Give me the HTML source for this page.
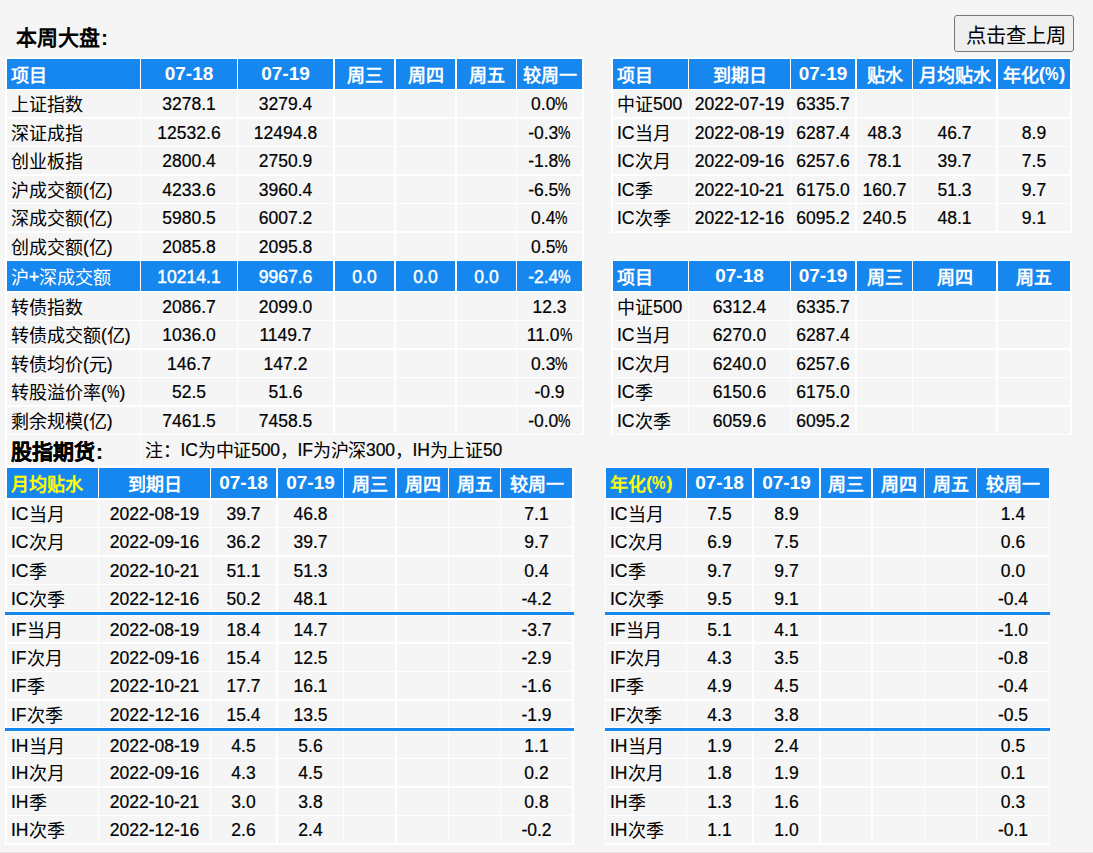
<!DOCTYPE html>
<html lang="zh-CN"><head><meta charset="utf-8"><style>
html,body{margin:0;padding:0;}
body{width:1093px;height:853px;background:#f5f5f5;position:relative;overflow:hidden;font-family:"Liberation Sans",sans-serif;color:#000;}
.r{position:absolute;}
.t{position:absolute;white-space:nowrap;box-sizing:border-box;font-size:17.5px;-webkit-text-stroke:0.2px currentColor;}
.t i{font-style:normal;font-size:18px;position:relative;top:1px;-webkit-text-stroke:0;}
.h{color:#fff;font-weight:bold;font-size:19px;-webkit-text-stroke:0;}
.h i{font-size:18px;top:1.5px;}
.y{color:#ffff00;}
.p{font-weight:inherit;display:inline-block;transform:scaleX(0.8);transform-origin:0 0;margin-right:-3px;}
.w{color:#fff;-webkit-text-stroke:0.45px #fff;}
.g{font-weight:bold;font-size:21px;}
.g i{font-size:21px;}
.ttl{position:absolute;left:16px;top:23px;font-weight:bold;font-size:21px;line-height:30px;white-space:nowrap;}
.btn{position:absolute;left:954px;top:15px;width:120px;height:37px;box-sizing:border-box;border:1px solid #767676;border-radius:3px;background:#efefef;font-size:20.3px;line-height:35px;padding-top:3px;padding-left:4px;text-align:center;white-space:nowrap;}
.bot{position:absolute;left:0;top:852px;width:1093px;height:1px;background:#e6e2e2;}
</style></head><body>
<div class="ttl">本周大盘<span style="margin-left:1px">:</span></div>
<div class="btn">点击查上周</div>
<div class="r" style="left:5px;top:57px;width:579px;height:378px;background:#fff"></div>
<div class="r" style="left:7px;top:59px;width:133px;height:30px;background:#1787f0"></div>
<div class="t h" style="left:7px;top:59px;width:133px;height:30px;line-height:30px;text-align:left;padding-left:4px;"><i>项目</i></div>
<div class="r" style="left:141px;top:59px;width:96px;height:30px;background:#1787f0"></div>
<div class="t h" style="left:141px;top:59px;width:96px;height:30px;line-height:30px;text-align:center;">07-18</div>
<div class="r" style="left:238px;top:59px;width:95px;height:30px;background:#1787f0"></div>
<div class="t h" style="left:238px;top:59px;width:95px;height:30px;line-height:30px;text-align:center;">07-19</div>
<div class="r" style="left:335px;top:59px;width:59px;height:30px;background:#1787f0"></div>
<div class="t h" style="left:335px;top:59px;width:59px;height:30px;line-height:30px;text-align:center;"><i>周三</i></div>
<div class="r" style="left:396px;top:59px;width:59px;height:30px;background:#1787f0"></div>
<div class="t h" style="left:396px;top:59px;width:59px;height:30px;line-height:30px;text-align:center;"><i>周四</i></div>
<div class="r" style="left:457px;top:59px;width:59px;height:30px;background:#1787f0"></div>
<div class="t h" style="left:457px;top:59px;width:59px;height:30px;line-height:30px;text-align:center;"><i>周五</i></div>
<div class="r" style="left:517px;top:59px;width:65px;height:30px;background:#1787f0"></div>
<div class="t h" style="left:517px;top:59px;width:65px;height:30px;line-height:30px;text-align:center;"><i>较周一</i></div>
<div class="r" style="left:7px;top:90px;width:133px;height:27px;background:#f5f5f5"></div>
<div class="t d" style="left:7px;top:91px;width:133px;height:27px;line-height:27px;text-align:left;padding-left:4px;"><i>上证指数</i></div>
<div class="r" style="left:141px;top:90px;width:96px;height:27px;background:#f5f5f5"></div>
<div class="t d" style="left:141px;top:91px;width:96px;height:27px;line-height:27px;text-align:center;">3278.1</div>
<div class="r" style="left:238px;top:90px;width:95px;height:27px;background:#f5f5f5"></div>
<div class="t d" style="left:238px;top:91px;width:95px;height:27px;line-height:27px;text-align:center;">3279.4</div>
<div class="r" style="left:335px;top:90px;width:59px;height:27px;background:#f5f5f5"></div>
<div class="r" style="left:396px;top:90px;width:59px;height:27px;background:#f5f5f5"></div>
<div class="r" style="left:457px;top:90px;width:59px;height:27px;background:#f5f5f5"></div>
<div class="r" style="left:517px;top:90px;width:65px;height:27px;background:#f5f5f5"></div>
<div class="t d" style="left:517px;top:91px;width:65px;height:27px;line-height:27px;text-align:center;">0.0<b class="p">%</b></div>
<div class="r" style="left:7px;top:119px;width:133px;height:27px;background:#f5f5f5"></div>
<div class="t d" style="left:7px;top:120px;width:133px;height:27px;line-height:27px;text-align:left;padding-left:4px;"><i>深证成指</i></div>
<div class="r" style="left:141px;top:119px;width:96px;height:27px;background:#f5f5f5"></div>
<div class="t d" style="left:141px;top:120px;width:96px;height:27px;line-height:27px;text-align:center;">12532.6</div>
<div class="r" style="left:238px;top:119px;width:95px;height:27px;background:#f5f5f5"></div>
<div class="t d" style="left:238px;top:120px;width:95px;height:27px;line-height:27px;text-align:center;">12494.8</div>
<div class="r" style="left:335px;top:119px;width:59px;height:27px;background:#f5f5f5"></div>
<div class="r" style="left:396px;top:119px;width:59px;height:27px;background:#f5f5f5"></div>
<div class="r" style="left:457px;top:119px;width:59px;height:27px;background:#f5f5f5"></div>
<div class="r" style="left:517px;top:119px;width:65px;height:27px;background:#f5f5f5"></div>
<div class="t d" style="left:517px;top:120px;width:65px;height:27px;line-height:27px;text-align:center;">-0.3<b class="p">%</b></div>
<div class="r" style="left:7px;top:147px;width:133px;height:27px;background:#f5f5f5"></div>
<div class="t d" style="left:7px;top:148px;width:133px;height:27px;line-height:27px;text-align:left;padding-left:4px;"><i>创业板指</i></div>
<div class="r" style="left:141px;top:147px;width:96px;height:27px;background:#f5f5f5"></div>
<div class="t d" style="left:141px;top:148px;width:96px;height:27px;line-height:27px;text-align:center;">2800.4</div>
<div class="r" style="left:238px;top:147px;width:95px;height:27px;background:#f5f5f5"></div>
<div class="t d" style="left:238px;top:148px;width:95px;height:27px;line-height:27px;text-align:center;">2750.9</div>
<div class="r" style="left:335px;top:147px;width:59px;height:27px;background:#f5f5f5"></div>
<div class="r" style="left:396px;top:147px;width:59px;height:27px;background:#f5f5f5"></div>
<div class="r" style="left:457px;top:147px;width:59px;height:27px;background:#f5f5f5"></div>
<div class="r" style="left:517px;top:147px;width:65px;height:27px;background:#f5f5f5"></div>
<div class="t d" style="left:517px;top:148px;width:65px;height:27px;line-height:27px;text-align:center;">-1.8<b class="p">%</b></div>
<div class="r" style="left:7px;top:176px;width:133px;height:27px;background:#f5f5f5"></div>
<div class="t d" style="left:7px;top:177px;width:133px;height:27px;line-height:27px;text-align:left;padding-left:4px;"><i>沪成交额</i>(<i>亿</i>)</div>
<div class="r" style="left:141px;top:176px;width:96px;height:27px;background:#f5f5f5"></div>
<div class="t d" style="left:141px;top:177px;width:96px;height:27px;line-height:27px;text-align:center;">4233.6</div>
<div class="r" style="left:238px;top:176px;width:95px;height:27px;background:#f5f5f5"></div>
<div class="t d" style="left:238px;top:177px;width:95px;height:27px;line-height:27px;text-align:center;">3960.4</div>
<div class="r" style="left:335px;top:176px;width:59px;height:27px;background:#f5f5f5"></div>
<div class="r" style="left:396px;top:176px;width:59px;height:27px;background:#f5f5f5"></div>
<div class="r" style="left:457px;top:176px;width:59px;height:27px;background:#f5f5f5"></div>
<div class="r" style="left:517px;top:176px;width:65px;height:27px;background:#f5f5f5"></div>
<div class="t d" style="left:517px;top:177px;width:65px;height:27px;line-height:27px;text-align:center;">-6.5<b class="p">%</b></div>
<div class="r" style="left:7px;top:204px;width:133px;height:27px;background:#f5f5f5"></div>
<div class="t d" style="left:7px;top:205px;width:133px;height:27px;line-height:27px;text-align:left;padding-left:4px;"><i>深成交额</i>(<i>亿</i>)</div>
<div class="r" style="left:141px;top:204px;width:96px;height:27px;background:#f5f5f5"></div>
<div class="t d" style="left:141px;top:205px;width:96px;height:27px;line-height:27px;text-align:center;">5980.5</div>
<div class="r" style="left:238px;top:204px;width:95px;height:27px;background:#f5f5f5"></div>
<div class="t d" style="left:238px;top:205px;width:95px;height:27px;line-height:27px;text-align:center;">6007.2</div>
<div class="r" style="left:335px;top:204px;width:59px;height:27px;background:#f5f5f5"></div>
<div class="r" style="left:396px;top:204px;width:59px;height:27px;background:#f5f5f5"></div>
<div class="r" style="left:457px;top:204px;width:59px;height:27px;background:#f5f5f5"></div>
<div class="r" style="left:517px;top:204px;width:65px;height:27px;background:#f5f5f5"></div>
<div class="t d" style="left:517px;top:205px;width:65px;height:27px;line-height:27px;text-align:center;">0.4<b class="p">%</b></div>
<div class="r" style="left:7px;top:233px;width:133px;height:27px;background:#f5f5f5"></div>
<div class="t d" style="left:7px;top:234px;width:133px;height:27px;line-height:27px;text-align:left;padding-left:4px;"><i>创成交额</i>(<i>亿</i>)</div>
<div class="r" style="left:141px;top:233px;width:96px;height:27px;background:#f5f5f5"></div>
<div class="t d" style="left:141px;top:234px;width:96px;height:27px;line-height:27px;text-align:center;">2085.8</div>
<div class="r" style="left:238px;top:233px;width:95px;height:27px;background:#f5f5f5"></div>
<div class="t d" style="left:238px;top:234px;width:95px;height:27px;line-height:27px;text-align:center;">2095.8</div>
<div class="r" style="left:335px;top:233px;width:59px;height:27px;background:#f5f5f5"></div>
<div class="r" style="left:396px;top:233px;width:59px;height:27px;background:#f5f5f5"></div>
<div class="r" style="left:457px;top:233px;width:59px;height:27px;background:#f5f5f5"></div>
<div class="r" style="left:517px;top:233px;width:65px;height:27px;background:#f5f5f5"></div>
<div class="t d" style="left:517px;top:234px;width:65px;height:27px;line-height:27px;text-align:center;">0.5<b class="p">%</b></div>
<div class="r" style="left:7px;top:261px;width:133px;height:30px;background:#1787f0"></div>
<div class="t w" style="left:7px;top:262px;width:133px;height:30px;line-height:30px;text-align:left;padding-left:4px;"><i>沪</i>+<i>深成交额</i></div>
<div class="r" style="left:141px;top:261px;width:96px;height:30px;background:#1787f0"></div>
<div class="t w" style="left:141px;top:262px;width:96px;height:30px;line-height:30px;text-align:center;">10214.1</div>
<div class="r" style="left:238px;top:261px;width:95px;height:30px;background:#1787f0"></div>
<div class="t w" style="left:238px;top:262px;width:95px;height:30px;line-height:30px;text-align:center;">9967.6</div>
<div class="r" style="left:335px;top:261px;width:59px;height:30px;background:#1787f0"></div>
<div class="t w" style="left:335px;top:262px;width:59px;height:30px;line-height:30px;text-align:center;">0.0</div>
<div class="r" style="left:396px;top:261px;width:59px;height:30px;background:#1787f0"></div>
<div class="t w" style="left:396px;top:262px;width:59px;height:30px;line-height:30px;text-align:center;">0.0</div>
<div class="r" style="left:457px;top:261px;width:59px;height:30px;background:#1787f0"></div>
<div class="t w" style="left:457px;top:262px;width:59px;height:30px;line-height:30px;text-align:center;">0.0</div>
<div class="r" style="left:517px;top:261px;width:65px;height:30px;background:#1787f0"></div>
<div class="t w" style="left:517px;top:262px;width:65px;height:30px;line-height:30px;text-align:center;">-2.4<b class="p">%</b></div>
<div class="r" style="left:7px;top:293px;width:133px;height:27px;background:#f5f5f5"></div>
<div class="t d" style="left:7px;top:294px;width:133px;height:27px;line-height:27px;text-align:left;padding-left:4px;"><i>转债指数</i></div>
<div class="r" style="left:141px;top:293px;width:96px;height:27px;background:#f5f5f5"></div>
<div class="t d" style="left:141px;top:294px;width:96px;height:27px;line-height:27px;text-align:center;">2086.7</div>
<div class="r" style="left:238px;top:293px;width:95px;height:27px;background:#f5f5f5"></div>
<div class="t d" style="left:238px;top:294px;width:95px;height:27px;line-height:27px;text-align:center;">2099.0</div>
<div class="r" style="left:335px;top:293px;width:59px;height:27px;background:#f5f5f5"></div>
<div class="r" style="left:396px;top:293px;width:59px;height:27px;background:#f5f5f5"></div>
<div class="r" style="left:457px;top:293px;width:59px;height:27px;background:#f5f5f5"></div>
<div class="r" style="left:517px;top:293px;width:65px;height:27px;background:#f5f5f5"></div>
<div class="t d" style="left:517px;top:294px;width:65px;height:27px;line-height:27px;text-align:center;">12.3</div>
<div class="r" style="left:7px;top:321px;width:133px;height:27px;background:#f5f5f5"></div>
<div class="t d" style="left:7px;top:322px;width:133px;height:27px;line-height:27px;text-align:left;padding-left:4px;"><i>转债成交额</i>(<i>亿</i>)</div>
<div class="r" style="left:141px;top:321px;width:96px;height:27px;background:#f5f5f5"></div>
<div class="t d" style="left:141px;top:322px;width:96px;height:27px;line-height:27px;text-align:center;">1036.0</div>
<div class="r" style="left:238px;top:321px;width:95px;height:27px;background:#f5f5f5"></div>
<div class="t d" style="left:238px;top:322px;width:95px;height:27px;line-height:27px;text-align:center;">1149.7</div>
<div class="r" style="left:335px;top:321px;width:59px;height:27px;background:#f5f5f5"></div>
<div class="r" style="left:396px;top:321px;width:59px;height:27px;background:#f5f5f5"></div>
<div class="r" style="left:457px;top:321px;width:59px;height:27px;background:#f5f5f5"></div>
<div class="r" style="left:517px;top:321px;width:65px;height:27px;background:#f5f5f5"></div>
<div class="t d" style="left:517px;top:322px;width:65px;height:27px;line-height:27px;text-align:center;">11.0<b class="p">%</b></div>
<div class="r" style="left:7px;top:350px;width:133px;height:27px;background:#f5f5f5"></div>
<div class="t d" style="left:7px;top:351px;width:133px;height:27px;line-height:27px;text-align:left;padding-left:4px;"><i>转债均价</i>(<i>元</i>)</div>
<div class="r" style="left:141px;top:350px;width:96px;height:27px;background:#f5f5f5"></div>
<div class="t d" style="left:141px;top:351px;width:96px;height:27px;line-height:27px;text-align:center;">146.7</div>
<div class="r" style="left:238px;top:350px;width:95px;height:27px;background:#f5f5f5"></div>
<div class="t d" style="left:238px;top:351px;width:95px;height:27px;line-height:27px;text-align:center;">147.2</div>
<div class="r" style="left:335px;top:350px;width:59px;height:27px;background:#f5f5f5"></div>
<div class="r" style="left:396px;top:350px;width:59px;height:27px;background:#f5f5f5"></div>
<div class="r" style="left:457px;top:350px;width:59px;height:27px;background:#f5f5f5"></div>
<div class="r" style="left:517px;top:350px;width:65px;height:27px;background:#f5f5f5"></div>
<div class="t d" style="left:517px;top:351px;width:65px;height:27px;line-height:27px;text-align:center;">0.3<b class="p">%</b></div>
<div class="r" style="left:7px;top:378px;width:133px;height:27px;background:#f5f5f5"></div>
<div class="t d" style="left:7px;top:379px;width:133px;height:27px;line-height:27px;text-align:left;padding-left:4px;"><i>转股溢价率</i>(<b class="p">%</b>)</div>
<div class="r" style="left:141px;top:378px;width:96px;height:27px;background:#f5f5f5"></div>
<div class="t d" style="left:141px;top:379px;width:96px;height:27px;line-height:27px;text-align:center;">52.5</div>
<div class="r" style="left:238px;top:378px;width:95px;height:27px;background:#f5f5f5"></div>
<div class="t d" style="left:238px;top:379px;width:95px;height:27px;line-height:27px;text-align:center;">51.6</div>
<div class="r" style="left:335px;top:378px;width:59px;height:27px;background:#f5f5f5"></div>
<div class="r" style="left:396px;top:378px;width:59px;height:27px;background:#f5f5f5"></div>
<div class="r" style="left:457px;top:378px;width:59px;height:27px;background:#f5f5f5"></div>
<div class="r" style="left:517px;top:378px;width:65px;height:27px;background:#f5f5f5"></div>
<div class="t d" style="left:517px;top:379px;width:65px;height:27px;line-height:27px;text-align:center;">-0.9</div>
<div class="r" style="left:7px;top:407px;width:133px;height:27px;background:#f5f5f5"></div>
<div class="t d" style="left:7px;top:408px;width:133px;height:27px;line-height:27px;text-align:left;padding-left:4px;"><i>剩余规模</i>(<i>亿</i>)</div>
<div class="r" style="left:141px;top:407px;width:96px;height:27px;background:#f5f5f5"></div>
<div class="t d" style="left:141px;top:408px;width:96px;height:27px;line-height:27px;text-align:center;">7461.5</div>
<div class="r" style="left:238px;top:407px;width:95px;height:27px;background:#f5f5f5"></div>
<div class="t d" style="left:238px;top:408px;width:95px;height:27px;line-height:27px;text-align:center;">7458.5</div>
<div class="r" style="left:335px;top:407px;width:59px;height:27px;background:#f5f5f5"></div>
<div class="r" style="left:396px;top:407px;width:59px;height:27px;background:#f5f5f5"></div>
<div class="r" style="left:457px;top:407px;width:59px;height:27px;background:#f5f5f5"></div>
<div class="r" style="left:517px;top:407px;width:65px;height:27px;background:#f5f5f5"></div>
<div class="t d" style="left:517px;top:408px;width:65px;height:27px;line-height:27px;text-align:center;">-0.0<b class="p">%</b></div>
<div class="r" style="left:5px;top:435px;width:2px;height:33px;background:#fff"></div>
<div class="r" style="left:7px;top:435px;width:133px;height:30px;background:#f5f5f5"></div>
<div class="r" style="left:140px;top:435px;width:1px;height:30px;background:#fff"></div>
<div class="r" style="left:141px;top:435px;width:443px;height:32px;background:#f5f5f5"></div>
<div class="r" style="left:5px;top:465px;width:136px;height:3px;background:#fff"></div>
<div class="r" style="left:141px;top:467px;width:433px;height:1px;background:#fff"></div>
<div class="t g" style="left:11px;top:437px;height:30px;line-height:30px">股指期货<span style="margin-left:1px">:</span></div>
<div class="t d" style="left:145px;top:435px;height:31px;line-height:31px;letter-spacing:-0.2px"><i>注：</i>IC<i>为中证</i>500<i>，</i>IF<i>为沪深</i>300<i>，</i>IH<i>为上证</i>50</div>
<div class="r" style="left:611px;top:57px;width:461px;height:176px;background:#fff"></div>
<div class="r" style="left:613px;top:59px;width:75px;height:30px;background:#1787f0"></div>
<div class="t h" style="left:613px;top:59px;width:75px;height:30px;line-height:30px;text-align:left;padding-left:4px;"><i>项目</i></div>
<div class="r" style="left:689px;top:59px;width:101px;height:30px;background:#1787f0"></div>
<div class="t h" style="left:689px;top:59px;width:101px;height:30px;line-height:30px;text-align:center;"><i>到期日</i></div>
<div class="r" style="left:791px;top:59px;width:64px;height:30px;background:#1787f0"></div>
<div class="t h" style="left:791px;top:59px;width:64px;height:30px;line-height:30px;text-align:center;">07-19</div>
<div class="r" style="left:857px;top:59px;width:55px;height:30px;background:#1787f0"></div>
<div class="t h" style="left:857px;top:59px;width:55px;height:30px;line-height:30px;text-align:center;"><i>贴水</i></div>
<div class="r" style="left:913px;top:59px;width:83px;height:30px;background:#1787f0"></div>
<div class="t h" style="left:913px;top:59px;width:83px;height:30px;line-height:30px;text-align:center;"><i>月均贴水</i></div>
<div class="r" style="left:998px;top:59px;width:72px;height:30px;background:#1787f0"></div>
<div class="t h" style="left:998px;top:59px;width:72px;height:30px;line-height:30px;text-align:center;"><i>年化</i>(<b class="p">%</b>)</div>
<div class="r" style="left:613px;top:90px;width:75px;height:27px;background:#f5f5f5"></div>
<div class="t d" style="left:613px;top:91px;width:75px;height:27px;line-height:27px;text-align:left;padding-left:4px;"><i>中证</i>500</div>
<div class="r" style="left:689px;top:90px;width:101px;height:27px;background:#f5f5f5"></div>
<div class="t d" style="left:689px;top:91px;width:101px;height:27px;line-height:27px;text-align:center;">2022-07-19</div>
<div class="r" style="left:791px;top:90px;width:64px;height:27px;background:#f5f5f5"></div>
<div class="t d" style="left:791px;top:91px;width:64px;height:27px;line-height:27px;text-align:center;">6335.7</div>
<div class="r" style="left:857px;top:90px;width:55px;height:27px;background:#f5f5f5"></div>
<div class="r" style="left:913px;top:90px;width:83px;height:27px;background:#f5f5f5"></div>
<div class="r" style="left:998px;top:90px;width:72px;height:27px;background:#f5f5f5"></div>
<div class="r" style="left:613px;top:119px;width:75px;height:27px;background:#f5f5f5"></div>
<div class="t d" style="left:613px;top:120px;width:75px;height:27px;line-height:27px;text-align:left;padding-left:4px;">IC<i>当月</i></div>
<div class="r" style="left:689px;top:119px;width:101px;height:27px;background:#f5f5f5"></div>
<div class="t d" style="left:689px;top:120px;width:101px;height:27px;line-height:27px;text-align:center;">2022-08-19</div>
<div class="r" style="left:791px;top:119px;width:64px;height:27px;background:#f5f5f5"></div>
<div class="t d" style="left:791px;top:120px;width:64px;height:27px;line-height:27px;text-align:center;">6287.4</div>
<div class="r" style="left:857px;top:119px;width:55px;height:27px;background:#f5f5f5"></div>
<div class="t d" style="left:857px;top:120px;width:55px;height:27px;line-height:27px;text-align:center;">48.3</div>
<div class="r" style="left:913px;top:119px;width:83px;height:27px;background:#f5f5f5"></div>
<div class="t d" style="left:913px;top:120px;width:83px;height:27px;line-height:27px;text-align:center;">46.7</div>
<div class="r" style="left:998px;top:119px;width:72px;height:27px;background:#f5f5f5"></div>
<div class="t d" style="left:998px;top:120px;width:72px;height:27px;line-height:27px;text-align:center;">8.9</div>
<div class="r" style="left:613px;top:147px;width:75px;height:27px;background:#f5f5f5"></div>
<div class="t d" style="left:613px;top:148px;width:75px;height:27px;line-height:27px;text-align:left;padding-left:4px;">IC<i>次月</i></div>
<div class="r" style="left:689px;top:147px;width:101px;height:27px;background:#f5f5f5"></div>
<div class="t d" style="left:689px;top:148px;width:101px;height:27px;line-height:27px;text-align:center;">2022-09-16</div>
<div class="r" style="left:791px;top:147px;width:64px;height:27px;background:#f5f5f5"></div>
<div class="t d" style="left:791px;top:148px;width:64px;height:27px;line-height:27px;text-align:center;">6257.6</div>
<div class="r" style="left:857px;top:147px;width:55px;height:27px;background:#f5f5f5"></div>
<div class="t d" style="left:857px;top:148px;width:55px;height:27px;line-height:27px;text-align:center;">78.1</div>
<div class="r" style="left:913px;top:147px;width:83px;height:27px;background:#f5f5f5"></div>
<div class="t d" style="left:913px;top:148px;width:83px;height:27px;line-height:27px;text-align:center;">39.7</div>
<div class="r" style="left:998px;top:147px;width:72px;height:27px;background:#f5f5f5"></div>
<div class="t d" style="left:998px;top:148px;width:72px;height:27px;line-height:27px;text-align:center;">7.5</div>
<div class="r" style="left:613px;top:176px;width:75px;height:27px;background:#f5f5f5"></div>
<div class="t d" style="left:613px;top:177px;width:75px;height:27px;line-height:27px;text-align:left;padding-left:4px;">IC<i>季</i></div>
<div class="r" style="left:689px;top:176px;width:101px;height:27px;background:#f5f5f5"></div>
<div class="t d" style="left:689px;top:177px;width:101px;height:27px;line-height:27px;text-align:center;">2022-10-21</div>
<div class="r" style="left:791px;top:176px;width:64px;height:27px;background:#f5f5f5"></div>
<div class="t d" style="left:791px;top:177px;width:64px;height:27px;line-height:27px;text-align:center;">6175.0</div>
<div class="r" style="left:857px;top:176px;width:55px;height:27px;background:#f5f5f5"></div>
<div class="t d" style="left:857px;top:177px;width:55px;height:27px;line-height:27px;text-align:center;">160.7</div>
<div class="r" style="left:913px;top:176px;width:83px;height:27px;background:#f5f5f5"></div>
<div class="t d" style="left:913px;top:177px;width:83px;height:27px;line-height:27px;text-align:center;">51.3</div>
<div class="r" style="left:998px;top:176px;width:72px;height:27px;background:#f5f5f5"></div>
<div class="t d" style="left:998px;top:177px;width:72px;height:27px;line-height:27px;text-align:center;">9.7</div>
<div class="r" style="left:613px;top:204px;width:75px;height:27px;background:#f5f5f5"></div>
<div class="t d" style="left:613px;top:205px;width:75px;height:27px;line-height:27px;text-align:left;padding-left:4px;">IC<i>次季</i></div>
<div class="r" style="left:689px;top:204px;width:101px;height:27px;background:#f5f5f5"></div>
<div class="t d" style="left:689px;top:205px;width:101px;height:27px;line-height:27px;text-align:center;">2022-12-16</div>
<div class="r" style="left:791px;top:204px;width:64px;height:27px;background:#f5f5f5"></div>
<div class="t d" style="left:791px;top:205px;width:64px;height:27px;line-height:27px;text-align:center;">6095.2</div>
<div class="r" style="left:857px;top:204px;width:55px;height:27px;background:#f5f5f5"></div>
<div class="t d" style="left:857px;top:205px;width:55px;height:27px;line-height:27px;text-align:center;">240.5</div>
<div class="r" style="left:913px;top:204px;width:83px;height:27px;background:#f5f5f5"></div>
<div class="t d" style="left:913px;top:205px;width:83px;height:27px;line-height:27px;text-align:center;">48.1</div>
<div class="r" style="left:998px;top:204px;width:72px;height:27px;background:#f5f5f5"></div>
<div class="t d" style="left:998px;top:205px;width:72px;height:27px;line-height:27px;text-align:center;">9.1</div>
<div class="r" style="left:611px;top:260px;width:461px;height:175px;background:#fff"></div>
<div class="r" style="left:613px;top:261px;width:75px;height:30px;background:#1787f0"></div>
<div class="t h" style="left:613px;top:261px;width:75px;height:30px;line-height:30px;text-align:left;padding-left:4px;"><i>项目</i></div>
<div class="r" style="left:689px;top:261px;width:101px;height:30px;background:#1787f0"></div>
<div class="t h" style="left:689px;top:261px;width:101px;height:30px;line-height:30px;text-align:center;">07-18</div>
<div class="r" style="left:791px;top:261px;width:64px;height:30px;background:#1787f0"></div>
<div class="t h" style="left:791px;top:261px;width:64px;height:30px;line-height:30px;text-align:center;">07-19</div>
<div class="r" style="left:857px;top:261px;width:55px;height:30px;background:#1787f0"></div>
<div class="t h" style="left:857px;top:261px;width:55px;height:30px;line-height:30px;text-align:center;"><i>周三</i></div>
<div class="r" style="left:913px;top:261px;width:83px;height:30px;background:#1787f0"></div>
<div class="t h" style="left:913px;top:261px;width:83px;height:30px;line-height:30px;text-align:center;"><i>周四</i></div>
<div class="r" style="left:998px;top:261px;width:72px;height:30px;background:#1787f0"></div>
<div class="t h" style="left:998px;top:261px;width:72px;height:30px;line-height:30px;text-align:center;"><i>周五</i></div>
<div class="r" style="left:613px;top:293px;width:75px;height:27px;background:#f5f5f5"></div>
<div class="t d" style="left:613px;top:294px;width:75px;height:27px;line-height:27px;text-align:left;padding-left:4px;"><i>中证</i>500</div>
<div class="r" style="left:689px;top:293px;width:101px;height:27px;background:#f5f5f5"></div>
<div class="t d" style="left:689px;top:294px;width:101px;height:27px;line-height:27px;text-align:center;">6312.4</div>
<div class="r" style="left:791px;top:293px;width:64px;height:27px;background:#f5f5f5"></div>
<div class="t d" style="left:791px;top:294px;width:64px;height:27px;line-height:27px;text-align:center;">6335.7</div>
<div class="r" style="left:857px;top:293px;width:55px;height:27px;background:#f5f5f5"></div>
<div class="r" style="left:913px;top:293px;width:83px;height:27px;background:#f5f5f5"></div>
<div class="r" style="left:998px;top:293px;width:72px;height:27px;background:#f5f5f5"></div>
<div class="r" style="left:613px;top:321px;width:75px;height:27px;background:#f5f5f5"></div>
<div class="t d" style="left:613px;top:322px;width:75px;height:27px;line-height:27px;text-align:left;padding-left:4px;">IC<i>当月</i></div>
<div class="r" style="left:689px;top:321px;width:101px;height:27px;background:#f5f5f5"></div>
<div class="t d" style="left:689px;top:322px;width:101px;height:27px;line-height:27px;text-align:center;">6270.0</div>
<div class="r" style="left:791px;top:321px;width:64px;height:27px;background:#f5f5f5"></div>
<div class="t d" style="left:791px;top:322px;width:64px;height:27px;line-height:27px;text-align:center;">6287.4</div>
<div class="r" style="left:857px;top:321px;width:55px;height:27px;background:#f5f5f5"></div>
<div class="r" style="left:913px;top:321px;width:83px;height:27px;background:#f5f5f5"></div>
<div class="r" style="left:998px;top:321px;width:72px;height:27px;background:#f5f5f5"></div>
<div class="r" style="left:613px;top:350px;width:75px;height:27px;background:#f5f5f5"></div>
<div class="t d" style="left:613px;top:351px;width:75px;height:27px;line-height:27px;text-align:left;padding-left:4px;">IC<i>次月</i></div>
<div class="r" style="left:689px;top:350px;width:101px;height:27px;background:#f5f5f5"></div>
<div class="t d" style="left:689px;top:351px;width:101px;height:27px;line-height:27px;text-align:center;">6240.0</div>
<div class="r" style="left:791px;top:350px;width:64px;height:27px;background:#f5f5f5"></div>
<div class="t d" style="left:791px;top:351px;width:64px;height:27px;line-height:27px;text-align:center;">6257.6</div>
<div class="r" style="left:857px;top:350px;width:55px;height:27px;background:#f5f5f5"></div>
<div class="r" style="left:913px;top:350px;width:83px;height:27px;background:#f5f5f5"></div>
<div class="r" style="left:998px;top:350px;width:72px;height:27px;background:#f5f5f5"></div>
<div class="r" style="left:613px;top:378px;width:75px;height:27px;background:#f5f5f5"></div>
<div class="t d" style="left:613px;top:379px;width:75px;height:27px;line-height:27px;text-align:left;padding-left:4px;">IC<i>季</i></div>
<div class="r" style="left:689px;top:378px;width:101px;height:27px;background:#f5f5f5"></div>
<div class="t d" style="left:689px;top:379px;width:101px;height:27px;line-height:27px;text-align:center;">6150.6</div>
<div class="r" style="left:791px;top:378px;width:64px;height:27px;background:#f5f5f5"></div>
<div class="t d" style="left:791px;top:379px;width:64px;height:27px;line-height:27px;text-align:center;">6175.0</div>
<div class="r" style="left:857px;top:378px;width:55px;height:27px;background:#f5f5f5"></div>
<div class="r" style="left:913px;top:378px;width:83px;height:27px;background:#f5f5f5"></div>
<div class="r" style="left:998px;top:378px;width:72px;height:27px;background:#f5f5f5"></div>
<div class="r" style="left:613px;top:407px;width:75px;height:27px;background:#f5f5f5"></div>
<div class="t d" style="left:613px;top:408px;width:75px;height:27px;line-height:27px;text-align:left;padding-left:4px;">IC<i>次季</i></div>
<div class="r" style="left:689px;top:407px;width:101px;height:27px;background:#f5f5f5"></div>
<div class="t d" style="left:689px;top:408px;width:101px;height:27px;line-height:27px;text-align:center;">6059.6</div>
<div class="r" style="left:791px;top:407px;width:64px;height:27px;background:#f5f5f5"></div>
<div class="t d" style="left:791px;top:408px;width:64px;height:27px;line-height:27px;text-align:center;">6095.2</div>
<div class="r" style="left:857px;top:407px;width:55px;height:27px;background:#f5f5f5"></div>
<div class="r" style="left:913px;top:407px;width:83px;height:27px;background:#f5f5f5"></div>
<div class="r" style="left:998px;top:407px;width:72px;height:27px;background:#f5f5f5"></div>
<div class="r" style="left:5px;top:467px;width:569px;height:378px;background:#fff"></div>
<div class="r" style="left:7px;top:468px;width:91px;height:30px;background:#1787f0"></div>
<div class="t h y" style="left:7px;top:468px;width:91px;height:30px;line-height:30px;text-align:left;padding-left:4px;"><i>月均贴水</i></div>
<div class="r" style="left:99px;top:468px;width:111px;height:30px;background:#1787f0"></div>
<div class="t h" style="left:99px;top:468px;width:111px;height:30px;line-height:30px;text-align:center;"><i>到期日</i></div>
<div class="r" style="left:211px;top:468px;width:65px;height:30px;background:#1787f0"></div>
<div class="t h" style="left:211px;top:468px;width:65px;height:30px;line-height:30px;text-align:center;">07-18</div>
<div class="r" style="left:278px;top:468px;width:65px;height:30px;background:#1787f0"></div>
<div class="t h" style="left:278px;top:468px;width:65px;height:30px;line-height:30px;text-align:center;">07-19</div>
<div class="r" style="left:344px;top:468px;width:51px;height:30px;background:#1787f0"></div>
<div class="t h" style="left:344px;top:468px;width:51px;height:30px;line-height:30px;text-align:center;"><i>周三</i></div>
<div class="r" style="left:397px;top:468px;width:51px;height:30px;background:#1787f0"></div>
<div class="t h" style="left:397px;top:468px;width:51px;height:30px;line-height:30px;text-align:center;"><i>周四</i></div>
<div class="r" style="left:449px;top:468px;width:51px;height:30px;background:#1787f0"></div>
<div class="t h" style="left:449px;top:468px;width:51px;height:30px;line-height:30px;text-align:center;"><i>周五</i></div>
<div class="r" style="left:501px;top:468px;width:71px;height:30px;background:#1787f0"></div>
<div class="t h" style="left:501px;top:468px;width:71px;height:30px;line-height:30px;text-align:center;"><i>较周一</i></div>
<div class="r" style="left:7px;top:500px;width:91px;height:27px;background:#f5f5f5"></div>
<div class="t d" style="left:7px;top:501px;width:91px;height:27px;line-height:27px;text-align:left;padding-left:4px;">IC<i>当月</i></div>
<div class="r" style="left:99px;top:500px;width:111px;height:27px;background:#f5f5f5"></div>
<div class="t d" style="left:99px;top:501px;width:111px;height:27px;line-height:27px;text-align:center;">2022-08-19</div>
<div class="r" style="left:211px;top:500px;width:65px;height:27px;background:#f5f5f5"></div>
<div class="t d" style="left:211px;top:501px;width:65px;height:27px;line-height:27px;text-align:center;">39.7</div>
<div class="r" style="left:278px;top:500px;width:65px;height:27px;background:#f5f5f5"></div>
<div class="t d" style="left:278px;top:501px;width:65px;height:27px;line-height:27px;text-align:center;">46.8</div>
<div class="r" style="left:344px;top:500px;width:51px;height:27px;background:#f5f5f5"></div>
<div class="r" style="left:397px;top:500px;width:51px;height:27px;background:#f5f5f5"></div>
<div class="r" style="left:449px;top:500px;width:51px;height:27px;background:#f5f5f5"></div>
<div class="r" style="left:501px;top:500px;width:71px;height:27px;background:#f5f5f5"></div>
<div class="t d" style="left:501px;top:501px;width:71px;height:27px;line-height:27px;text-align:center;">7.1</div>
<div class="r" style="left:7px;top:528px;width:91px;height:27px;background:#f5f5f5"></div>
<div class="t d" style="left:7px;top:529px;width:91px;height:27px;line-height:27px;text-align:left;padding-left:4px;">IC<i>次月</i></div>
<div class="r" style="left:99px;top:528px;width:111px;height:27px;background:#f5f5f5"></div>
<div class="t d" style="left:99px;top:529px;width:111px;height:27px;line-height:27px;text-align:center;">2022-09-16</div>
<div class="r" style="left:211px;top:528px;width:65px;height:27px;background:#f5f5f5"></div>
<div class="t d" style="left:211px;top:529px;width:65px;height:27px;line-height:27px;text-align:center;">36.2</div>
<div class="r" style="left:278px;top:528px;width:65px;height:27px;background:#f5f5f5"></div>
<div class="t d" style="left:278px;top:529px;width:65px;height:27px;line-height:27px;text-align:center;">39.7</div>
<div class="r" style="left:344px;top:528px;width:51px;height:27px;background:#f5f5f5"></div>
<div class="r" style="left:397px;top:528px;width:51px;height:27px;background:#f5f5f5"></div>
<div class="r" style="left:449px;top:528px;width:51px;height:27px;background:#f5f5f5"></div>
<div class="r" style="left:501px;top:528px;width:71px;height:27px;background:#f5f5f5"></div>
<div class="t d" style="left:501px;top:529px;width:71px;height:27px;line-height:27px;text-align:center;">9.7</div>
<div class="r" style="left:7px;top:557px;width:91px;height:27px;background:#f5f5f5"></div>
<div class="t d" style="left:7px;top:558px;width:91px;height:27px;line-height:27px;text-align:left;padding-left:4px;">IC<i>季</i></div>
<div class="r" style="left:99px;top:557px;width:111px;height:27px;background:#f5f5f5"></div>
<div class="t d" style="left:99px;top:558px;width:111px;height:27px;line-height:27px;text-align:center;">2022-10-21</div>
<div class="r" style="left:211px;top:557px;width:65px;height:27px;background:#f5f5f5"></div>
<div class="t d" style="left:211px;top:558px;width:65px;height:27px;line-height:27px;text-align:center;">51.1</div>
<div class="r" style="left:278px;top:557px;width:65px;height:27px;background:#f5f5f5"></div>
<div class="t d" style="left:278px;top:558px;width:65px;height:27px;line-height:27px;text-align:center;">51.3</div>
<div class="r" style="left:344px;top:557px;width:51px;height:27px;background:#f5f5f5"></div>
<div class="r" style="left:397px;top:557px;width:51px;height:27px;background:#f5f5f5"></div>
<div class="r" style="left:449px;top:557px;width:51px;height:27px;background:#f5f5f5"></div>
<div class="r" style="left:501px;top:557px;width:71px;height:27px;background:#f5f5f5"></div>
<div class="t d" style="left:501px;top:558px;width:71px;height:27px;line-height:27px;text-align:center;">0.4</div>
<div class="r" style="left:7px;top:585px;width:91px;height:26px;background:#f5f5f5"></div>
<div class="t d" style="left:7px;top:586px;width:91px;height:26px;line-height:26px;text-align:left;padding-left:4px;">IC<i>次季</i></div>
<div class="r" style="left:99px;top:585px;width:111px;height:26px;background:#f5f5f5"></div>
<div class="t d" style="left:99px;top:586px;width:111px;height:26px;line-height:26px;text-align:center;">2022-12-16</div>
<div class="r" style="left:211px;top:585px;width:65px;height:26px;background:#f5f5f5"></div>
<div class="t d" style="left:211px;top:586px;width:65px;height:26px;line-height:26px;text-align:center;">50.2</div>
<div class="r" style="left:278px;top:585px;width:65px;height:26px;background:#f5f5f5"></div>
<div class="t d" style="left:278px;top:586px;width:65px;height:26px;line-height:26px;text-align:center;">48.1</div>
<div class="r" style="left:344px;top:585px;width:51px;height:26px;background:#f5f5f5"></div>
<div class="r" style="left:397px;top:585px;width:51px;height:26px;background:#f5f5f5"></div>
<div class="r" style="left:449px;top:585px;width:51px;height:26px;background:#f5f5f5"></div>
<div class="r" style="left:501px;top:585px;width:71px;height:26px;background:#f5f5f5"></div>
<div class="t d" style="left:501px;top:586px;width:71px;height:26px;line-height:26px;text-align:center;">-4.2</div>
<div class="r" style="left:7px;top:616px;width:91px;height:26px;background:#f5f5f5"></div>
<div class="t d" style="left:7px;top:617px;width:91px;height:26px;line-height:26px;text-align:left;padding-left:4px;">IF<i>当月</i></div>
<div class="r" style="left:99px;top:616px;width:111px;height:26px;background:#f5f5f5"></div>
<div class="t d" style="left:99px;top:617px;width:111px;height:26px;line-height:26px;text-align:center;">2022-08-19</div>
<div class="r" style="left:211px;top:616px;width:65px;height:26px;background:#f5f5f5"></div>
<div class="t d" style="left:211px;top:617px;width:65px;height:26px;line-height:26px;text-align:center;">18.4</div>
<div class="r" style="left:278px;top:616px;width:65px;height:26px;background:#f5f5f5"></div>
<div class="t d" style="left:278px;top:617px;width:65px;height:26px;line-height:26px;text-align:center;">14.7</div>
<div class="r" style="left:344px;top:616px;width:51px;height:26px;background:#f5f5f5"></div>
<div class="r" style="left:397px;top:616px;width:51px;height:26px;background:#f5f5f5"></div>
<div class="r" style="left:449px;top:616px;width:51px;height:26px;background:#f5f5f5"></div>
<div class="r" style="left:501px;top:616px;width:71px;height:26px;background:#f5f5f5"></div>
<div class="t d" style="left:501px;top:617px;width:71px;height:26px;line-height:26px;text-align:center;">-3.7</div>
<div class="r" style="left:7px;top:644px;width:91px;height:27px;background:#f5f5f5"></div>
<div class="t d" style="left:7px;top:645px;width:91px;height:27px;line-height:27px;text-align:left;padding-left:4px;">IF<i>次月</i></div>
<div class="r" style="left:99px;top:644px;width:111px;height:27px;background:#f5f5f5"></div>
<div class="t d" style="left:99px;top:645px;width:111px;height:27px;line-height:27px;text-align:center;">2022-09-16</div>
<div class="r" style="left:211px;top:644px;width:65px;height:27px;background:#f5f5f5"></div>
<div class="t d" style="left:211px;top:645px;width:65px;height:27px;line-height:27px;text-align:center;">15.4</div>
<div class="r" style="left:278px;top:644px;width:65px;height:27px;background:#f5f5f5"></div>
<div class="t d" style="left:278px;top:645px;width:65px;height:27px;line-height:27px;text-align:center;">12.5</div>
<div class="r" style="left:344px;top:644px;width:51px;height:27px;background:#f5f5f5"></div>
<div class="r" style="left:397px;top:644px;width:51px;height:27px;background:#f5f5f5"></div>
<div class="r" style="left:449px;top:644px;width:51px;height:27px;background:#f5f5f5"></div>
<div class="r" style="left:501px;top:644px;width:71px;height:27px;background:#f5f5f5"></div>
<div class="t d" style="left:501px;top:645px;width:71px;height:27px;line-height:27px;text-align:center;">-2.9</div>
<div class="r" style="left:7px;top:672px;width:91px;height:27px;background:#f5f5f5"></div>
<div class="t d" style="left:7px;top:673px;width:91px;height:27px;line-height:27px;text-align:left;padding-left:4px;">IF<i>季</i></div>
<div class="r" style="left:99px;top:672px;width:111px;height:27px;background:#f5f5f5"></div>
<div class="t d" style="left:99px;top:673px;width:111px;height:27px;line-height:27px;text-align:center;">2022-10-21</div>
<div class="r" style="left:211px;top:672px;width:65px;height:27px;background:#f5f5f5"></div>
<div class="t d" style="left:211px;top:673px;width:65px;height:27px;line-height:27px;text-align:center;">17.7</div>
<div class="r" style="left:278px;top:672px;width:65px;height:27px;background:#f5f5f5"></div>
<div class="t d" style="left:278px;top:673px;width:65px;height:27px;line-height:27px;text-align:center;">16.1</div>
<div class="r" style="left:344px;top:672px;width:51px;height:27px;background:#f5f5f5"></div>
<div class="r" style="left:397px;top:672px;width:51px;height:27px;background:#f5f5f5"></div>
<div class="r" style="left:449px;top:672px;width:51px;height:27px;background:#f5f5f5"></div>
<div class="r" style="left:501px;top:672px;width:71px;height:27px;background:#f5f5f5"></div>
<div class="t d" style="left:501px;top:673px;width:71px;height:27px;line-height:27px;text-align:center;">-1.6</div>
<div class="r" style="left:7px;top:701px;width:91px;height:26px;background:#f5f5f5"></div>
<div class="t d" style="left:7px;top:702px;width:91px;height:26px;line-height:26px;text-align:left;padding-left:4px;">IF<i>次季</i></div>
<div class="r" style="left:99px;top:701px;width:111px;height:26px;background:#f5f5f5"></div>
<div class="t d" style="left:99px;top:702px;width:111px;height:26px;line-height:26px;text-align:center;">2022-12-16</div>
<div class="r" style="left:211px;top:701px;width:65px;height:26px;background:#f5f5f5"></div>
<div class="t d" style="left:211px;top:702px;width:65px;height:26px;line-height:26px;text-align:center;">15.4</div>
<div class="r" style="left:278px;top:701px;width:65px;height:26px;background:#f5f5f5"></div>
<div class="t d" style="left:278px;top:702px;width:65px;height:26px;line-height:26px;text-align:center;">13.5</div>
<div class="r" style="left:344px;top:701px;width:51px;height:26px;background:#f5f5f5"></div>
<div class="r" style="left:397px;top:701px;width:51px;height:26px;background:#f5f5f5"></div>
<div class="r" style="left:449px;top:701px;width:51px;height:26px;background:#f5f5f5"></div>
<div class="r" style="left:501px;top:701px;width:71px;height:26px;background:#f5f5f5"></div>
<div class="t d" style="left:501px;top:702px;width:71px;height:26px;line-height:26px;text-align:center;">-1.9</div>
<div class="r" style="left:7px;top:732px;width:91px;height:26px;background:#f5f5f5"></div>
<div class="t d" style="left:7px;top:733px;width:91px;height:26px;line-height:26px;text-align:left;padding-left:4px;">IH<i>当月</i></div>
<div class="r" style="left:99px;top:732px;width:111px;height:26px;background:#f5f5f5"></div>
<div class="t d" style="left:99px;top:733px;width:111px;height:26px;line-height:26px;text-align:center;">2022-08-19</div>
<div class="r" style="left:211px;top:732px;width:65px;height:26px;background:#f5f5f5"></div>
<div class="t d" style="left:211px;top:733px;width:65px;height:26px;line-height:26px;text-align:center;">4.5</div>
<div class="r" style="left:278px;top:732px;width:65px;height:26px;background:#f5f5f5"></div>
<div class="t d" style="left:278px;top:733px;width:65px;height:26px;line-height:26px;text-align:center;">5.6</div>
<div class="r" style="left:344px;top:732px;width:51px;height:26px;background:#f5f5f5"></div>
<div class="r" style="left:397px;top:732px;width:51px;height:26px;background:#f5f5f5"></div>
<div class="r" style="left:449px;top:732px;width:51px;height:26px;background:#f5f5f5"></div>
<div class="r" style="left:501px;top:732px;width:71px;height:26px;background:#f5f5f5"></div>
<div class="t d" style="left:501px;top:733px;width:71px;height:26px;line-height:26px;text-align:center;">1.1</div>
<div class="r" style="left:7px;top:759px;width:91px;height:27px;background:#f5f5f5"></div>
<div class="t d" style="left:7px;top:760px;width:91px;height:27px;line-height:27px;text-align:left;padding-left:4px;">IH<i>次月</i></div>
<div class="r" style="left:99px;top:759px;width:111px;height:27px;background:#f5f5f5"></div>
<div class="t d" style="left:99px;top:760px;width:111px;height:27px;line-height:27px;text-align:center;">2022-09-16</div>
<div class="r" style="left:211px;top:759px;width:65px;height:27px;background:#f5f5f5"></div>
<div class="t d" style="left:211px;top:760px;width:65px;height:27px;line-height:27px;text-align:center;">4.3</div>
<div class="r" style="left:278px;top:759px;width:65px;height:27px;background:#f5f5f5"></div>
<div class="t d" style="left:278px;top:760px;width:65px;height:27px;line-height:27px;text-align:center;">4.5</div>
<div class="r" style="left:344px;top:759px;width:51px;height:27px;background:#f5f5f5"></div>
<div class="r" style="left:397px;top:759px;width:51px;height:27px;background:#f5f5f5"></div>
<div class="r" style="left:449px;top:759px;width:51px;height:27px;background:#f5f5f5"></div>
<div class="r" style="left:501px;top:759px;width:71px;height:27px;background:#f5f5f5"></div>
<div class="t d" style="left:501px;top:760px;width:71px;height:27px;line-height:27px;text-align:center;">0.2</div>
<div class="r" style="left:7px;top:788px;width:91px;height:27px;background:#f5f5f5"></div>
<div class="t d" style="left:7px;top:789px;width:91px;height:27px;line-height:27px;text-align:left;padding-left:4px;">IH<i>季</i></div>
<div class="r" style="left:99px;top:788px;width:111px;height:27px;background:#f5f5f5"></div>
<div class="t d" style="left:99px;top:789px;width:111px;height:27px;line-height:27px;text-align:center;">2022-10-21</div>
<div class="r" style="left:211px;top:788px;width:65px;height:27px;background:#f5f5f5"></div>
<div class="t d" style="left:211px;top:789px;width:65px;height:27px;line-height:27px;text-align:center;">3.0</div>
<div class="r" style="left:278px;top:788px;width:65px;height:27px;background:#f5f5f5"></div>
<div class="t d" style="left:278px;top:789px;width:65px;height:27px;line-height:27px;text-align:center;">3.8</div>
<div class="r" style="left:344px;top:788px;width:51px;height:27px;background:#f5f5f5"></div>
<div class="r" style="left:397px;top:788px;width:51px;height:27px;background:#f5f5f5"></div>
<div class="r" style="left:449px;top:788px;width:51px;height:27px;background:#f5f5f5"></div>
<div class="r" style="left:501px;top:788px;width:71px;height:27px;background:#f5f5f5"></div>
<div class="t d" style="left:501px;top:789px;width:71px;height:27px;line-height:27px;text-align:center;">0.8</div>
<div class="r" style="left:7px;top:816px;width:91px;height:27px;background:#f5f5f5"></div>
<div class="t d" style="left:7px;top:817px;width:91px;height:27px;line-height:27px;text-align:left;padding-left:4px;">IH<i>次季</i></div>
<div class="r" style="left:99px;top:816px;width:111px;height:27px;background:#f5f5f5"></div>
<div class="t d" style="left:99px;top:817px;width:111px;height:27px;line-height:27px;text-align:center;">2022-12-16</div>
<div class="r" style="left:211px;top:816px;width:65px;height:27px;background:#f5f5f5"></div>
<div class="t d" style="left:211px;top:817px;width:65px;height:27px;line-height:27px;text-align:center;">2.6</div>
<div class="r" style="left:278px;top:816px;width:65px;height:27px;background:#f5f5f5"></div>
<div class="t d" style="left:278px;top:817px;width:65px;height:27px;line-height:27px;text-align:center;">2.4</div>
<div class="r" style="left:344px;top:816px;width:51px;height:27px;background:#f5f5f5"></div>
<div class="r" style="left:397px;top:816px;width:51px;height:27px;background:#f5f5f5"></div>
<div class="r" style="left:449px;top:816px;width:51px;height:27px;background:#f5f5f5"></div>
<div class="r" style="left:501px;top:816px;width:71px;height:27px;background:#f5f5f5"></div>
<div class="t d" style="left:501px;top:817px;width:71px;height:27px;line-height:27px;text-align:center;">-0.2</div>
<div class="r" style="left:5px;top:612px;width:569px;height:3px;background:#1787f0"></div>
<div class="r" style="left:5px;top:728px;width:569px;height:3px;background:#1787f0"></div>
<div class="r" style="left:605px;top:467px;width:445px;height:378px;background:#fff"></div>
<div class="r" style="left:606px;top:468px;width:80px;height:30px;background:#1787f0"></div>
<div class="t h y" style="left:606px;top:468px;width:80px;height:30px;line-height:30px;text-align:left;padding-left:4px;"><i>年化</i>(<b class="p">%</b>)</div>
<div class="r" style="left:687px;top:468px;width:65px;height:30px;background:#1787f0"></div>
<div class="t h" style="left:687px;top:468px;width:65px;height:30px;line-height:30px;text-align:center;">07-18</div>
<div class="r" style="left:754px;top:468px;width:65px;height:30px;background:#1787f0"></div>
<div class="t h" style="left:754px;top:468px;width:65px;height:30px;line-height:30px;text-align:center;">07-19</div>
<div class="r" style="left:821px;top:468px;width:50px;height:30px;background:#1787f0"></div>
<div class="t h" style="left:821px;top:468px;width:50px;height:30px;line-height:30px;text-align:center;"><i>周三</i></div>
<div class="r" style="left:873px;top:468px;width:51px;height:30px;background:#1787f0"></div>
<div class="t h" style="left:873px;top:468px;width:51px;height:30px;line-height:30px;text-align:center;"><i>周四</i></div>
<div class="r" style="left:925px;top:468px;width:51px;height:30px;background:#1787f0"></div>
<div class="t h" style="left:925px;top:468px;width:51px;height:30px;line-height:30px;text-align:center;"><i>周五</i></div>
<div class="r" style="left:977px;top:468px;width:72px;height:30px;background:#1787f0"></div>
<div class="t h" style="left:977px;top:468px;width:72px;height:30px;line-height:30px;text-align:center;"><i>较周一</i></div>
<div class="r" style="left:606px;top:500px;width:80px;height:27px;background:#f5f5f5"></div>
<div class="t d" style="left:606px;top:501px;width:80px;height:27px;line-height:27px;text-align:left;padding-left:4px;">IC<i>当月</i></div>
<div class="r" style="left:687px;top:500px;width:65px;height:27px;background:#f5f5f5"></div>
<div class="t d" style="left:687px;top:501px;width:65px;height:27px;line-height:27px;text-align:center;">7.5</div>
<div class="r" style="left:754px;top:500px;width:65px;height:27px;background:#f5f5f5"></div>
<div class="t d" style="left:754px;top:501px;width:65px;height:27px;line-height:27px;text-align:center;">8.9</div>
<div class="r" style="left:821px;top:500px;width:50px;height:27px;background:#f5f5f5"></div>
<div class="r" style="left:873px;top:500px;width:51px;height:27px;background:#f5f5f5"></div>
<div class="r" style="left:925px;top:500px;width:51px;height:27px;background:#f5f5f5"></div>
<div class="r" style="left:977px;top:500px;width:72px;height:27px;background:#f5f5f5"></div>
<div class="t d" style="left:977px;top:501px;width:72px;height:27px;line-height:27px;text-align:center;">1.4</div>
<div class="r" style="left:606px;top:528px;width:80px;height:27px;background:#f5f5f5"></div>
<div class="t d" style="left:606px;top:529px;width:80px;height:27px;line-height:27px;text-align:left;padding-left:4px;">IC<i>次月</i></div>
<div class="r" style="left:687px;top:528px;width:65px;height:27px;background:#f5f5f5"></div>
<div class="t d" style="left:687px;top:529px;width:65px;height:27px;line-height:27px;text-align:center;">6.9</div>
<div class="r" style="left:754px;top:528px;width:65px;height:27px;background:#f5f5f5"></div>
<div class="t d" style="left:754px;top:529px;width:65px;height:27px;line-height:27px;text-align:center;">7.5</div>
<div class="r" style="left:821px;top:528px;width:50px;height:27px;background:#f5f5f5"></div>
<div class="r" style="left:873px;top:528px;width:51px;height:27px;background:#f5f5f5"></div>
<div class="r" style="left:925px;top:528px;width:51px;height:27px;background:#f5f5f5"></div>
<div class="r" style="left:977px;top:528px;width:72px;height:27px;background:#f5f5f5"></div>
<div class="t d" style="left:977px;top:529px;width:72px;height:27px;line-height:27px;text-align:center;">0.6</div>
<div class="r" style="left:606px;top:557px;width:80px;height:27px;background:#f5f5f5"></div>
<div class="t d" style="left:606px;top:558px;width:80px;height:27px;line-height:27px;text-align:left;padding-left:4px;">IC<i>季</i></div>
<div class="r" style="left:687px;top:557px;width:65px;height:27px;background:#f5f5f5"></div>
<div class="t d" style="left:687px;top:558px;width:65px;height:27px;line-height:27px;text-align:center;">9.7</div>
<div class="r" style="left:754px;top:557px;width:65px;height:27px;background:#f5f5f5"></div>
<div class="t d" style="left:754px;top:558px;width:65px;height:27px;line-height:27px;text-align:center;">9.7</div>
<div class="r" style="left:821px;top:557px;width:50px;height:27px;background:#f5f5f5"></div>
<div class="r" style="left:873px;top:557px;width:51px;height:27px;background:#f5f5f5"></div>
<div class="r" style="left:925px;top:557px;width:51px;height:27px;background:#f5f5f5"></div>
<div class="r" style="left:977px;top:557px;width:72px;height:27px;background:#f5f5f5"></div>
<div class="t d" style="left:977px;top:558px;width:72px;height:27px;line-height:27px;text-align:center;">0.0</div>
<div class="r" style="left:606px;top:585px;width:80px;height:26px;background:#f5f5f5"></div>
<div class="t d" style="left:606px;top:586px;width:80px;height:26px;line-height:26px;text-align:left;padding-left:4px;">IC<i>次季</i></div>
<div class="r" style="left:687px;top:585px;width:65px;height:26px;background:#f5f5f5"></div>
<div class="t d" style="left:687px;top:586px;width:65px;height:26px;line-height:26px;text-align:center;">9.5</div>
<div class="r" style="left:754px;top:585px;width:65px;height:26px;background:#f5f5f5"></div>
<div class="t d" style="left:754px;top:586px;width:65px;height:26px;line-height:26px;text-align:center;">9.1</div>
<div class="r" style="left:821px;top:585px;width:50px;height:26px;background:#f5f5f5"></div>
<div class="r" style="left:873px;top:585px;width:51px;height:26px;background:#f5f5f5"></div>
<div class="r" style="left:925px;top:585px;width:51px;height:26px;background:#f5f5f5"></div>
<div class="r" style="left:977px;top:585px;width:72px;height:26px;background:#f5f5f5"></div>
<div class="t d" style="left:977px;top:586px;width:72px;height:26px;line-height:26px;text-align:center;">-0.4</div>
<div class="r" style="left:606px;top:616px;width:80px;height:26px;background:#f5f5f5"></div>
<div class="t d" style="left:606px;top:617px;width:80px;height:26px;line-height:26px;text-align:left;padding-left:4px;">IF<i>当月</i></div>
<div class="r" style="left:687px;top:616px;width:65px;height:26px;background:#f5f5f5"></div>
<div class="t d" style="left:687px;top:617px;width:65px;height:26px;line-height:26px;text-align:center;">5.1</div>
<div class="r" style="left:754px;top:616px;width:65px;height:26px;background:#f5f5f5"></div>
<div class="t d" style="left:754px;top:617px;width:65px;height:26px;line-height:26px;text-align:center;">4.1</div>
<div class="r" style="left:821px;top:616px;width:50px;height:26px;background:#f5f5f5"></div>
<div class="r" style="left:873px;top:616px;width:51px;height:26px;background:#f5f5f5"></div>
<div class="r" style="left:925px;top:616px;width:51px;height:26px;background:#f5f5f5"></div>
<div class="r" style="left:977px;top:616px;width:72px;height:26px;background:#f5f5f5"></div>
<div class="t d" style="left:977px;top:617px;width:72px;height:26px;line-height:26px;text-align:center;">-1.0</div>
<div class="r" style="left:606px;top:644px;width:80px;height:27px;background:#f5f5f5"></div>
<div class="t d" style="left:606px;top:645px;width:80px;height:27px;line-height:27px;text-align:left;padding-left:4px;">IF<i>次月</i></div>
<div class="r" style="left:687px;top:644px;width:65px;height:27px;background:#f5f5f5"></div>
<div class="t d" style="left:687px;top:645px;width:65px;height:27px;line-height:27px;text-align:center;">4.3</div>
<div class="r" style="left:754px;top:644px;width:65px;height:27px;background:#f5f5f5"></div>
<div class="t d" style="left:754px;top:645px;width:65px;height:27px;line-height:27px;text-align:center;">3.5</div>
<div class="r" style="left:821px;top:644px;width:50px;height:27px;background:#f5f5f5"></div>
<div class="r" style="left:873px;top:644px;width:51px;height:27px;background:#f5f5f5"></div>
<div class="r" style="left:925px;top:644px;width:51px;height:27px;background:#f5f5f5"></div>
<div class="r" style="left:977px;top:644px;width:72px;height:27px;background:#f5f5f5"></div>
<div class="t d" style="left:977px;top:645px;width:72px;height:27px;line-height:27px;text-align:center;">-0.8</div>
<div class="r" style="left:606px;top:672px;width:80px;height:27px;background:#f5f5f5"></div>
<div class="t d" style="left:606px;top:673px;width:80px;height:27px;line-height:27px;text-align:left;padding-left:4px;">IF<i>季</i></div>
<div class="r" style="left:687px;top:672px;width:65px;height:27px;background:#f5f5f5"></div>
<div class="t d" style="left:687px;top:673px;width:65px;height:27px;line-height:27px;text-align:center;">4.9</div>
<div class="r" style="left:754px;top:672px;width:65px;height:27px;background:#f5f5f5"></div>
<div class="t d" style="left:754px;top:673px;width:65px;height:27px;line-height:27px;text-align:center;">4.5</div>
<div class="r" style="left:821px;top:672px;width:50px;height:27px;background:#f5f5f5"></div>
<div class="r" style="left:873px;top:672px;width:51px;height:27px;background:#f5f5f5"></div>
<div class="r" style="left:925px;top:672px;width:51px;height:27px;background:#f5f5f5"></div>
<div class="r" style="left:977px;top:672px;width:72px;height:27px;background:#f5f5f5"></div>
<div class="t d" style="left:977px;top:673px;width:72px;height:27px;line-height:27px;text-align:center;">-0.4</div>
<div class="r" style="left:606px;top:701px;width:80px;height:26px;background:#f5f5f5"></div>
<div class="t d" style="left:606px;top:702px;width:80px;height:26px;line-height:26px;text-align:left;padding-left:4px;">IF<i>次季</i></div>
<div class="r" style="left:687px;top:701px;width:65px;height:26px;background:#f5f5f5"></div>
<div class="t d" style="left:687px;top:702px;width:65px;height:26px;line-height:26px;text-align:center;">4.3</div>
<div class="r" style="left:754px;top:701px;width:65px;height:26px;background:#f5f5f5"></div>
<div class="t d" style="left:754px;top:702px;width:65px;height:26px;line-height:26px;text-align:center;">3.8</div>
<div class="r" style="left:821px;top:701px;width:50px;height:26px;background:#f5f5f5"></div>
<div class="r" style="left:873px;top:701px;width:51px;height:26px;background:#f5f5f5"></div>
<div class="r" style="left:925px;top:701px;width:51px;height:26px;background:#f5f5f5"></div>
<div class="r" style="left:977px;top:701px;width:72px;height:26px;background:#f5f5f5"></div>
<div class="t d" style="left:977px;top:702px;width:72px;height:26px;line-height:26px;text-align:center;">-0.5</div>
<div class="r" style="left:606px;top:732px;width:80px;height:26px;background:#f5f5f5"></div>
<div class="t d" style="left:606px;top:733px;width:80px;height:26px;line-height:26px;text-align:left;padding-left:4px;">IH<i>当月</i></div>
<div class="r" style="left:687px;top:732px;width:65px;height:26px;background:#f5f5f5"></div>
<div class="t d" style="left:687px;top:733px;width:65px;height:26px;line-height:26px;text-align:center;">1.9</div>
<div class="r" style="left:754px;top:732px;width:65px;height:26px;background:#f5f5f5"></div>
<div class="t d" style="left:754px;top:733px;width:65px;height:26px;line-height:26px;text-align:center;">2.4</div>
<div class="r" style="left:821px;top:732px;width:50px;height:26px;background:#f5f5f5"></div>
<div class="r" style="left:873px;top:732px;width:51px;height:26px;background:#f5f5f5"></div>
<div class="r" style="left:925px;top:732px;width:51px;height:26px;background:#f5f5f5"></div>
<div class="r" style="left:977px;top:732px;width:72px;height:26px;background:#f5f5f5"></div>
<div class="t d" style="left:977px;top:733px;width:72px;height:26px;line-height:26px;text-align:center;">0.5</div>
<div class="r" style="left:606px;top:759px;width:80px;height:27px;background:#f5f5f5"></div>
<div class="t d" style="left:606px;top:760px;width:80px;height:27px;line-height:27px;text-align:left;padding-left:4px;">IH<i>次月</i></div>
<div class="r" style="left:687px;top:759px;width:65px;height:27px;background:#f5f5f5"></div>
<div class="t d" style="left:687px;top:760px;width:65px;height:27px;line-height:27px;text-align:center;">1.8</div>
<div class="r" style="left:754px;top:759px;width:65px;height:27px;background:#f5f5f5"></div>
<div class="t d" style="left:754px;top:760px;width:65px;height:27px;line-height:27px;text-align:center;">1.9</div>
<div class="r" style="left:821px;top:759px;width:50px;height:27px;background:#f5f5f5"></div>
<div class="r" style="left:873px;top:759px;width:51px;height:27px;background:#f5f5f5"></div>
<div class="r" style="left:925px;top:759px;width:51px;height:27px;background:#f5f5f5"></div>
<div class="r" style="left:977px;top:759px;width:72px;height:27px;background:#f5f5f5"></div>
<div class="t d" style="left:977px;top:760px;width:72px;height:27px;line-height:27px;text-align:center;">0.1</div>
<div class="r" style="left:606px;top:788px;width:80px;height:27px;background:#f5f5f5"></div>
<div class="t d" style="left:606px;top:789px;width:80px;height:27px;line-height:27px;text-align:left;padding-left:4px;">IH<i>季</i></div>
<div class="r" style="left:687px;top:788px;width:65px;height:27px;background:#f5f5f5"></div>
<div class="t d" style="left:687px;top:789px;width:65px;height:27px;line-height:27px;text-align:center;">1.3</div>
<div class="r" style="left:754px;top:788px;width:65px;height:27px;background:#f5f5f5"></div>
<div class="t d" style="left:754px;top:789px;width:65px;height:27px;line-height:27px;text-align:center;">1.6</div>
<div class="r" style="left:821px;top:788px;width:50px;height:27px;background:#f5f5f5"></div>
<div class="r" style="left:873px;top:788px;width:51px;height:27px;background:#f5f5f5"></div>
<div class="r" style="left:925px;top:788px;width:51px;height:27px;background:#f5f5f5"></div>
<div class="r" style="left:977px;top:788px;width:72px;height:27px;background:#f5f5f5"></div>
<div class="t d" style="left:977px;top:789px;width:72px;height:27px;line-height:27px;text-align:center;">0.3</div>
<div class="r" style="left:606px;top:816px;width:80px;height:27px;background:#f5f5f5"></div>
<div class="t d" style="left:606px;top:817px;width:80px;height:27px;line-height:27px;text-align:left;padding-left:4px;">IH<i>次季</i></div>
<div class="r" style="left:687px;top:816px;width:65px;height:27px;background:#f5f5f5"></div>
<div class="t d" style="left:687px;top:817px;width:65px;height:27px;line-height:27px;text-align:center;">1.1</div>
<div class="r" style="left:754px;top:816px;width:65px;height:27px;background:#f5f5f5"></div>
<div class="t d" style="left:754px;top:817px;width:65px;height:27px;line-height:27px;text-align:center;">1.0</div>
<div class="r" style="left:821px;top:816px;width:50px;height:27px;background:#f5f5f5"></div>
<div class="r" style="left:873px;top:816px;width:51px;height:27px;background:#f5f5f5"></div>
<div class="r" style="left:925px;top:816px;width:51px;height:27px;background:#f5f5f5"></div>
<div class="r" style="left:977px;top:816px;width:72px;height:27px;background:#f5f5f5"></div>
<div class="t d" style="left:977px;top:817px;width:72px;height:27px;line-height:27px;text-align:center;">-0.1</div>
<div class="r" style="left:605px;top:612px;width:445px;height:3px;background:#1787f0"></div>
<div class="r" style="left:605px;top:728px;width:445px;height:3px;background:#1787f0"></div>
<div class="bot"></div>
</body></html>
